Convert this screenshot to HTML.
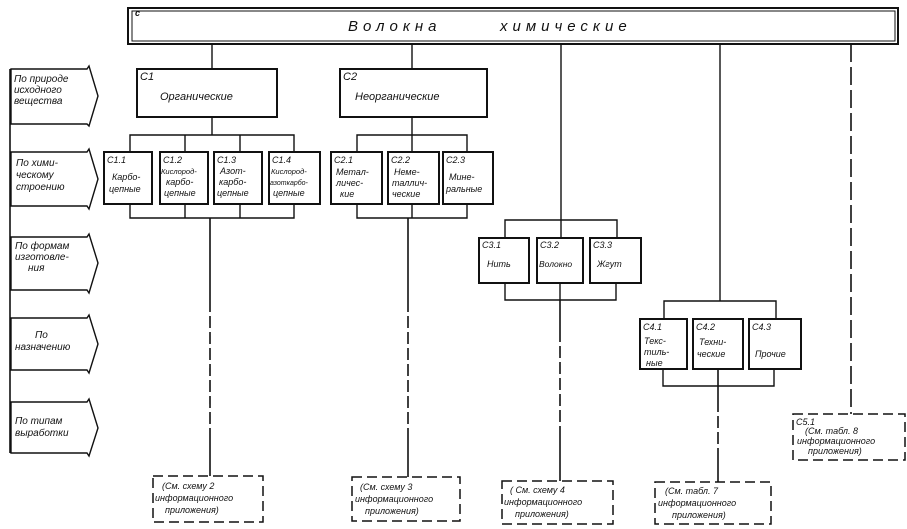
<!DOCTYPE html>
<html><head><meta charset="utf-8"><style>
html,body{margin:0;padding:0;background:#fff;}
svg{display:block;}
text{font-family:"Liberation Sans","DejaVu Sans",sans-serif;font-style:italic;fill:#111;}
</style></head><body>
<svg width="907" height="529" viewBox="0 0 907 529" xmlns="http://www.w3.org/2000/svg">
<g fill="none" stroke="#111" stroke-width="1.4">
<rect x="128" y="8" width="770" height="36" stroke-width="2"/>
<rect x="132" y="11" width="763" height="30" stroke-width="1"/>
<path d="M11,69 H87 L89,66 L98,96 L89,126 L87,124 H11 Z"/>
<path d="M11,152 H87 L89,149 L98,179 L89,209 L87,206 H11 Z"/>
<path d="M11,237 H87 L89,234 L98,263 L89,293 L87,290 H11 Z"/>
<path d="M11,318 H87 L89,315 L98,344 L89,373 L87,370 H11 Z"/>
<path d="M11,402 H87 L89,399 L98,428 L89,456 L87,453 H11 Z"/>
<line x1="10" y1="69" x2="10" y2="453" stroke-width="1.6"/>
<line x1="212" y1="44" x2="212" y2="69"/>
<rect x="137" y="69" width="140" height="48" stroke-width="2"/>
<line x1="212" y1="117" x2="212" y2="135"/>
<polyline points="130,152 130,135 294,135 294,152"/>
<line x1="185" y1="135" x2="185" y2="152"/><line x1="240" y1="135" x2="240" y2="152"/>
<rect x="104" y="152" width="48" height="52" stroke-width="2"/>
<rect x="160" y="152" width="48" height="52" stroke-width="2"/>
<rect x="214" y="152" width="48" height="52" stroke-width="2"/>
<rect x="269" y="152" width="51" height="52" stroke-width="2"/>
<polyline points="130,204 130,218 294,218 294,204"/>
<line x1="185" y1="204" x2="185" y2="218"/><line x1="240" y1="204" x2="240" y2="218"/>
<g stroke-width="1.6">
<line x1="210" y1="218" x2="210" y2="300"/>
<line x1="210" y1="300" x2="210" y2="440" stroke-dasharray="12,4"/>
<line x1="210" y1="440" x2="210" y2="476"/>
</g>
<line x1="412" y1="44" x2="412" y2="69"/>
<rect x="340" y="69" width="147" height="48" stroke-width="2"/>
<line x1="412" y1="117" x2="412" y2="135"/>
<polyline points="357,152 357,135 467,135 467,152"/>
<line x1="412" y1="135" x2="412" y2="152"/>
<rect x="331" y="152" width="51" height="52" stroke-width="2"/>
<rect x="388" y="152" width="51" height="52" stroke-width="2"/>
<rect x="443" y="152" width="50" height="52" stroke-width="2"/>
<polyline points="357,204 357,218 467,218 467,204"/>
<line x1="412" y1="204" x2="412" y2="218"/>
<g stroke-width="1.6">
<line x1="408" y1="218" x2="408" y2="300"/>
<line x1="408" y1="300" x2="408" y2="440" stroke-dasharray="12,4"/>
<line x1="408" y1="440" x2="408" y2="477"/>
</g>
<line x1="561" y1="44" x2="561" y2="237"/>
<polyline points="505,237 505,220 617,220 617,237"/>
<rect x="479" y="238" width="50" height="45" stroke-width="2"/>
<rect x="537" y="238" width="46" height="45" stroke-width="2"/>
<rect x="590" y="238" width="51" height="45" stroke-width="2"/>
<polyline points="505,283 505,300 616,300 616,283"/>
<line x1="560" y1="283" x2="560" y2="300"/>
<g stroke-width="1.6">
<line x1="560" y1="300" x2="560" y2="330"/>
<line x1="560" y1="330" x2="560" y2="430" stroke-dasharray="12,4"/>
<line x1="560" y1="430" x2="560" y2="481"/>
</g>
<line x1="720" y1="44" x2="720" y2="301"/>
<polyline points="664,319 664,301 776,301 776,319"/>
<rect x="640" y="319" width="47" height="50" stroke-width="2"/>
<rect x="693" y="319" width="50" height="50" stroke-width="2"/>
<rect x="749" y="319" width="52" height="50" stroke-width="2"/>
<polyline points="663,369 663,386 774,386 774,369"/>
<g stroke-width="1.6">
<line x1="718" y1="369" x2="718" y2="400"/>
<line x1="718" y1="400" x2="718" y2="460" stroke-dasharray="12,4"/>
<line x1="718" y1="460" x2="718" y2="482"/>
<line x1="851" y1="44" x2="851" y2="414" stroke-dasharray="18,5"/>
</g>
<g stroke-dasharray="10,5" stroke-width="1.5">
<rect x="153" y="476" width="110" height="46"/>
<rect x="352" y="477" width="108" height="44"/>
<rect x="502" y="481" width="111" height="43"/>
<rect x="655" y="482" width="116" height="42"/>
<rect x="793" y="414" width="112" height="46"/>
</g>
</g>
<g font-size="10">
<text x="348" y="31" font-size="15" letter-spacing="5">Волокна</text>
<text x="500" y="31" font-size="15" letter-spacing="5">химические</text>
<text x="14" y="82">По природе</text><text x="14" y="93">исходного</text><text x="14" y="104">вещества</text>
<text x="16" y="166">По хими-</text><text x="16" y="178">ческому</text><text x="16" y="190">строению</text>
<text x="15" y="249">По формам</text><text x="15" y="260">изготовле-</text><text x="28" y="271">ния</text>
<text x="35" y="338">По</text><text x="15" y="350">назначению</text>
<text x="15" y="424">По типам</text><text x="15" y="436">выработки</text>
<text x="140" y="80" font-size="11">С1</text><text x="160" y="100" font-size="11">Органические</text>
<text x="343" y="80" font-size="11">С2</text><text x="355" y="100" font-size="11">Неорганические</text>
<text x="135" y="16" font-size="9" font-style="normal" font-weight="bold">с</text>
</g>
<g font-size="9">
<text x="107" y="163">С1.1</text><text x="112" y="180">Карбо-</text><text x="109" y="192">цепные</text>
<text x="163" y="163">С1.2</text><text x="161" y="174" font-size="7.5">Кислород-</text><text x="166" y="185">карбо-</text><text x="164" y="196">цепные</text>
<text x="217" y="163">С1.3</text><text x="220" y="174">Азот-</text><text x="219" y="185">карбо-</text><text x="217" y="196">цепные</text>
<text x="272" y="163">С1.4</text><text x="271" y="174" font-size="7.5">Кислород-</text><text x="270" y="185" font-size="7">азоткарбо-</text><text x="273" y="196">цепные</text>
<text x="334" y="163">С2.1</text><text x="336" y="175">Метал-</text><text x="336" y="186">личес-</text><text x="340" y="197">кие</text>
<text x="391" y="163">С2.2</text><text x="394" y="175">Неме-</text><text x="392" y="186">таллич-</text><text x="392" y="197">ческие</text>
<text x="446" y="163">С2.3</text><text x="449" y="180">Мине-</text><text x="446" y="192">ральные</text>
<text x="482" y="248">С3.1</text><text x="487" y="267">Нить</text>
<text x="540" y="248">С3.2</text><text x="539" y="267" font-size="8.5">Волокно</text>
<text x="593" y="248">С3.3</text><text x="597" y="267">Жгут</text>
<text x="643" y="330">С4.1</text><text x="644" y="344">Текс-</text><text x="644" y="355">тиль-</text><text x="646" y="366">ные</text>
<text x="696" y="330">С4.2</text><text x="699" y="345">Техни-</text><text x="697" y="357">ческие</text>
<text x="752" y="330">С4.3</text><text x="755" y="357">Прочие</text>
<text x="162" y="489">(См. схему 2</text><text x="155" y="501">информационного</text><text x="165" y="513">приложения)</text>
<text x="360" y="490">(См. схему 3</text><text x="355" y="502">информационного</text><text x="365" y="514">приложения)</text>
<text x="510" y="493">( См. схему 4</text><text x="504" y="505">информационного</text><text x="515" y="517">приложения)</text>
<text x="665" y="494">(См. табл. 7</text><text x="658" y="506">информационного</text><text x="672" y="518">приложения)</text>
<text x="796" y="425">С5.1</text><text x="805" y="434">(См. табл. 8</text><text x="797" y="444">информационного</text><text x="808" y="454">приложения)</text>
</g>
</svg>
</body></html>
